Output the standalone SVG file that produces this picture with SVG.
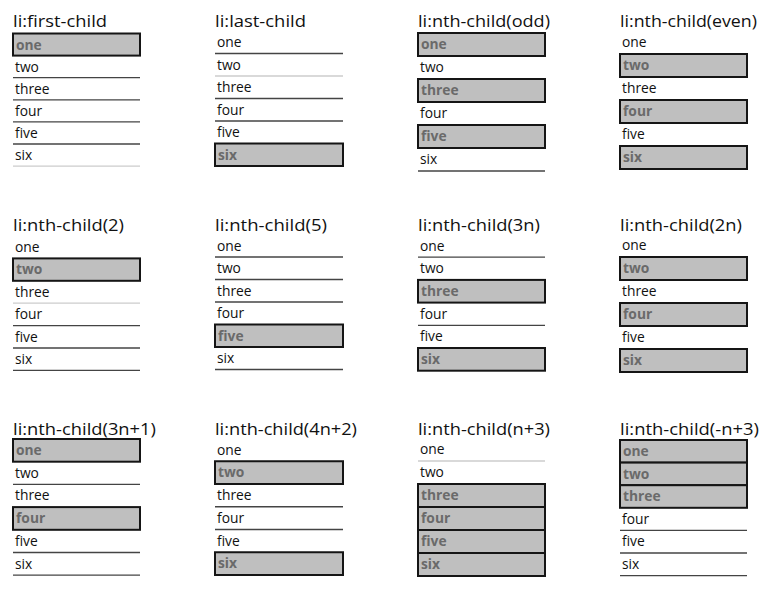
<svg xmlns="http://www.w3.org/2000/svg" width="773" height="590" viewBox="0 0 773 590">
<style>
.t{font-family:"Open Sans","Noto Sans","Liberation Sans",sans-serif;font-size:17px;fill:#111}
.i{font-family:"Open Sans","Noto Sans","Liberation Sans",sans-serif;font-size:13.8px;fill:#111}
.h{font-family:"Open Sans","Noto Sans","Liberation Sans",sans-serif;font-size:13.8px;font-weight:700;fill:#6a6a6a}
.b{fill:#bfbfbf;stroke:#151515;stroke-width:2}
.l{stroke:#444;stroke-width:1.3}
.ll{stroke:#ccc;stroke-width:1.3}
</style>
<rect width="773" height="590" fill="#fff"/>

<g id="first-child">
<text class="t" x="13" y="26.5" textLength="94" lengthAdjust="spacingAndGlyphs">li:first-child</text>
<rect class="b" x="13" y="33.5" width="127" height="22.1"/>
<text class="h" x="16" y="49.5">one</text>
<text class="i" x="15" y="71.6">two</text>
<text class="i" x="15" y="93.7">three</text>
<text class="i" x="15" y="115.8">four</text>
<text class="i" x="15" y="137.9">five</text>
<text class="i" x="15" y="160">six</text>
<line class="l" x1="13" y1="77.7" x2="140" y2="77.7"/>
<line class="l" x1="13" y1="99.8" x2="140" y2="99.8"/>
<line class="l" x1="13" y1="121.9" x2="140" y2="121.9"/>
<line class="l" x1="13" y1="144" x2="140" y2="144"/>
<line class="ll" x1="13" y1="166.1" x2="140" y2="166.1"/>
</g>

<g id="last-child">
<text class="t" x="215" y="26.5" textLength="91" lengthAdjust="spacingAndGlyphs">li:last-child</text>
<text class="i" x="217" y="47">one</text>
<text class="i" x="217" y="69.5">two</text>
<text class="i" x="217" y="92">three</text>
<text class="i" x="217" y="114.5">four</text>
<text class="i" x="217" y="137">five</text>
<rect class="b" x="215" y="143.5" width="128" height="22.5"/>
<text class="h" x="218" y="159.5">six</text>
<line class="l" x1="215" y1="53.5" x2="343" y2="53.5"/>
<line class="ll" x1="215" y1="76" x2="343" y2="76"/>
<line class="l" x1="215" y1="98.5" x2="343" y2="98.5"/>
<line class="l" x1="215" y1="121" x2="343" y2="121"/>
</g>

<g id="nth-odd">
<text class="t" x="418" y="26.5" textLength="132" lengthAdjust="spacingAndGlyphs">li:nth-child(odd)</text>
<rect class="b" x="418" y="33" width="127" height="23"/>
<text class="h" x="421" y="49">one</text>
<text class="i" x="420" y="72">two</text>
<rect class="b" x="418" y="79" width="127" height="23"/>
<text class="h" x="421" y="95">three</text>
<text class="i" x="420" y="118">four</text>
<rect class="b" x="418" y="125" width="127" height="23"/>
<text class="h" x="421" y="141">five</text>
<text class="i" x="420" y="164">six</text>
<line class="l" x1="418" y1="171" x2="545" y2="171"/>
</g>

<g id="nth-even">
<text class="t" x="620" y="26.5" textLength="137" lengthAdjust="spacingAndGlyphs">li:nth-child(even)</text>
<text class="i" x="622" y="47">one</text>
<rect class="b" x="620" y="54" width="127" height="23"/>
<text class="h" x="623" y="70">two</text>
<text class="i" x="622" y="93">three</text>
<rect class="b" x="620" y="100" width="127" height="23"/>
<text class="h" x="623" y="116">four</text>
<text class="i" x="622" y="139">five</text>
<rect class="b" x="620" y="146" width="127" height="23"/>
<text class="h" x="623" y="162">six</text>
</g>

<g id="nth-2">
<text class="t" x="13" y="231" textLength="111" lengthAdjust="spacingAndGlyphs">li:nth-child(2)</text>
<text class="i" x="15" y="252">one</text>
<rect class="b" x="13" y="258.4" width="127" height="22.4"/>
<text class="h" x="16" y="274.4">two</text>
<text class="i" x="15" y="296.8">three</text>
<text class="i" x="15" y="319.2">four</text>
<text class="i" x="15" y="341.6">five</text>
<text class="i" x="15" y="364">six</text>
<line class="ll" x1="13" y1="303.2" x2="140" y2="303.2"/>
<line class="l" x1="13" y1="325.6" x2="140" y2="325.6"/>
<line class="l" x1="13" y1="348" x2="140" y2="348"/>
<line class="l" x1="13" y1="370.4" x2="140" y2="370.4"/>
</g>

<g id="nth-5">
<text class="t" x="215" y="231" textLength="112" lengthAdjust="spacingAndGlyphs">li:nth-child(5)</text>
<text class="i" x="217" y="250.5">one</text>
<text class="i" x="217" y="273">two</text>
<text class="i" x="217" y="295.5">three</text>
<text class="i" x="217" y="318">four</text>
<rect class="b" x="215" y="324.5" width="128" height="22.5"/>
<text class="h" x="218" y="340.5">five</text>
<text class="i" x="217" y="363">six</text>
<line class="l" x1="215" y1="257" x2="343" y2="257"/>
<line class="l" x1="215" y1="279.5" x2="343" y2="279.5"/>
<line class="l" x1="215" y1="302" x2="343" y2="302"/>
<line class="l" x1="215" y1="369.5" x2="343" y2="369.5"/>
</g>

<g id="nth-3n">
<text class="t" x="418" y="231" textLength="122" lengthAdjust="spacingAndGlyphs">li:nth-child(3n)</text>
<text class="i" x="420" y="250.5">one</text>
<text class="i" x="420" y="273.2">two</text>
<rect class="b" x="418" y="279.9" width="127" height="22.7"/>
<text class="h" x="421" y="295.9">three</text>
<text class="i" x="420" y="318.6">four</text>
<text class="i" x="420" y="341.3">five</text>
<rect class="b" x="418" y="348" width="127" height="22.7"/>
<text class="h" x="421" y="364">six</text>
<line class="l" x1="418" y1="257.2" x2="545" y2="257.2"/>
<line class="l" x1="418" y1="325.3" x2="545" y2="325.3"/>
</g>

<g id="nth-2n">
<text class="t" x="620" y="231" textLength="122" lengthAdjust="spacingAndGlyphs">li:nth-child(2n)</text>
<text class="i" x="622" y="250">one</text>
<rect class="b" x="620" y="257" width="127" height="23"/>
<text class="h" x="623" y="273">two</text>
<text class="i" x="622" y="296">three</text>
<rect class="b" x="620" y="303" width="127" height="23"/>
<text class="h" x="623" y="319">four</text>
<text class="i" x="622" y="342">five</text>
<rect class="b" x="620" y="349" width="127" height="23"/>
<text class="h" x="623" y="365">six</text>
</g>

<g id="nth-3n1">
<text class="t" x="13" y="435" textLength="143" lengthAdjust="spacingAndGlyphs">li:nth-child(3n+1)</text>
<rect class="b" x="13" y="439" width="127" height="22.7"/>
<text class="h" x="16" y="455">one</text>
<text class="i" x="15" y="477.7">two</text>
<text class="i" x="15" y="500.4">three</text>
<rect class="b" x="13" y="507.1" width="127" height="22.7"/>
<text class="h" x="16" y="523.1">four</text>
<text class="i" x="15" y="545.8">five</text>
<text class="i" x="15" y="568.5">six</text>
<line class="l" x1="13" y1="484.4" x2="140" y2="484.4"/>
<line class="l" x1="13" y1="552.5" x2="140" y2="552.5"/>
<line class="l" x1="13" y1="575.2" x2="140" y2="575.2"/>
</g>

<g id="nth-4n2">
<text class="t" x="215" y="435" textLength="142" lengthAdjust="spacingAndGlyphs">li:nth-child(4n+2)</text>
<text class="i" x="217" y="454.5">one</text>
<rect class="b" x="215" y="461.25" width="128" height="22.75"/>
<text class="h" x="218" y="477.25">two</text>
<text class="i" x="217" y="500">three</text>
<text class="i" x="217" y="522.75">four</text>
<text class="i" x="217" y="545.5">five</text>
<rect class="b" x="215" y="552.25" width="128" height="22.75"/>
<text class="h" x="218" y="568.25">six</text>
<line class="l" x1="215" y1="506.75" x2="343" y2="506.75"/>
<line class="l" x1="215" y1="529.5" x2="343" y2="529.5"/>
</g>

<g id="nth-n3">
<text class="t" x="418" y="435" textLength="132" lengthAdjust="spacingAndGlyphs">li:nth-child(n+3)</text>
<text class="i" x="420" y="454">one</text>
<text class="i" x="420" y="477">two</text>
<line class="ll" x1="418" y1="461" x2="545" y2="461"/>
<rect class="b" x="418" y="484" width="127" height="23"/>
<text class="h" x="421" y="500">three</text>
<rect class="b" x="418" y="507" width="127" height="23"/>
<text class="h" x="421" y="523">four</text>
<rect class="b" x="418" y="530" width="127" height="23"/>
<text class="h" x="421" y="546">five</text>
<rect class="b" x="418" y="553" width="127" height="23"/>
<text class="h" x="421" y="569">six</text>
</g>

<g id="nth-neg-n3">
<text class="t" x="620" y="435" textLength="139" lengthAdjust="spacingAndGlyphs">li:nth-child(-n+3)</text>
<rect class="b" x="620" y="440" width="127" height="22.6"/>
<text class="h" x="623" y="456">one</text>
<rect class="b" x="620" y="462.6" width="127" height="22.6"/>
<text class="h" x="623" y="478.6">two</text>
<rect class="b" x="620" y="485.2" width="127" height="22.6"/>
<text class="h" x="623" y="501.2">three</text>
<text class="i" x="622" y="523.8">four</text>
<text class="i" x="622" y="546.4">five</text>
<text class="i" x="622" y="569">six</text>
<line class="l" x1="620" y1="530.4" x2="747" y2="530.4"/>
<line class="l" x1="620" y1="553" x2="747" y2="553"/>
<line class="l" x1="620" y1="575.6" x2="747" y2="575.6"/>
</g>

<g id="connectors"/>
</svg>
